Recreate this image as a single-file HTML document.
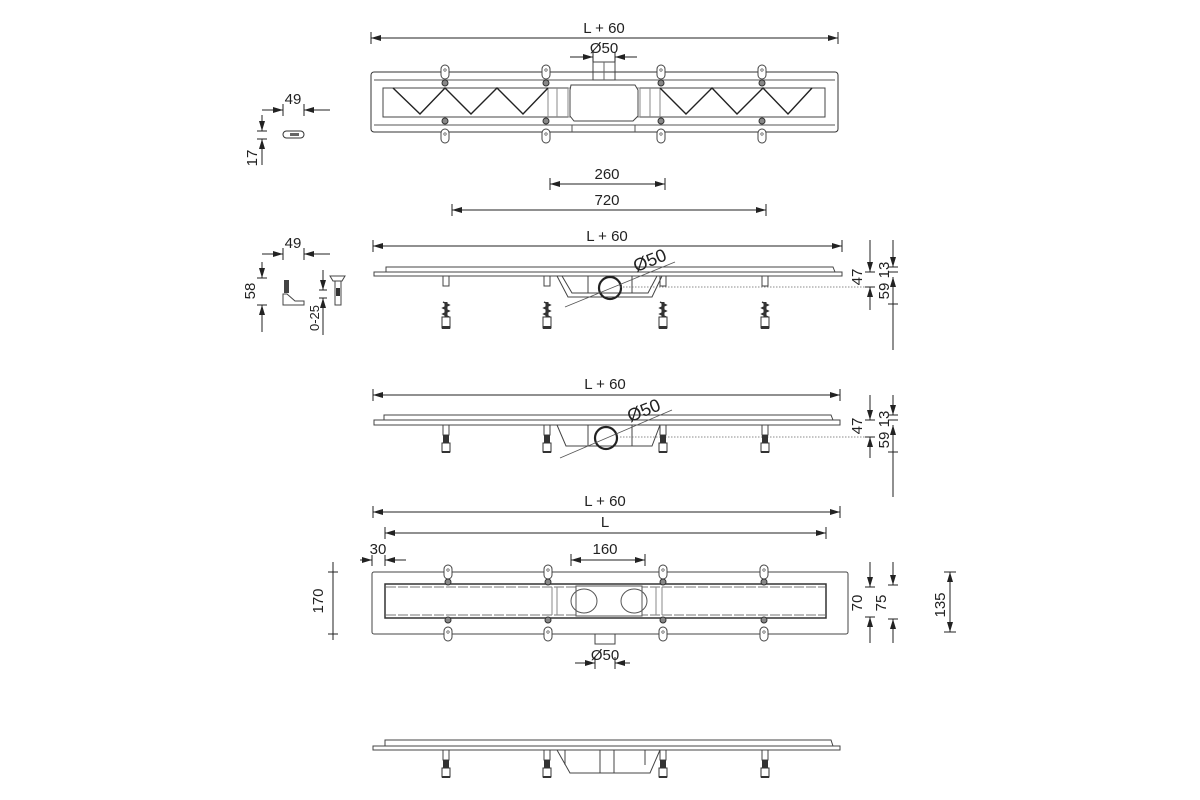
<!DOCTYPE html>
<html><head><meta charset="utf-8"><style>
html,body{margin:0;padding:0;background:#fff;width:1200px;height:800px;overflow:hidden}
text{font-family:"Liberation Sans",sans-serif;font-size:15px;fill:#222}
</style></head><body>
<svg width="1200" height="800" viewBox="0 0 1200 800" xmlns="http://www.w3.org/2000/svg">
<defs>
<marker id="a" markerWidth="10" markerHeight="6" refX="10" refY="3" orient="auto-start-reverse" markerUnits="userSpaceOnUse"><path d="M0,0 L10,3 L0,6z" fill="#222"/></marker>
<g id="tab"><rect x="-4" y="-7" width="8" height="14" rx="4" fill="#fff" stroke="#444" stroke-width="1"/><circle cx="0" cy="-2" r="1.2" fill="none" stroke="#444" stroke-width=".7"/></g>
<g id="bolt"><circle r="3" fill="#888" stroke="#333" stroke-width="1"/></g>
<g id="legS"><path d="M-5,0 h10 M-3,0 v10 h6 v-10" fill="none" stroke="#444" stroke-width="1"/></g>
<g id="screw"><path d="M-3,0 l6,3 l-6,3 l6,3 l-6,3 l6,3" fill="none" stroke="#333" stroke-width="1.5"/><rect x="-1.5" y="0" width="3" height="15" fill="#333"/><rect x="-4" y="15" width="8" height="11" fill="#fff" stroke="#333"/><rect x="-4" y="24" width="8" height="3" fill="#333"/></g>
<g id="legF"><path d="M-5,0 h10 M-3,0 v10 h6 v-10" fill="none" stroke="#444" stroke-width="1"/><rect x="-3" y="10" width="6" height="10" fill="#333"/><rect x="-4" y="18" width="8" height="9" fill="#fff" stroke="#333"/><rect x="-4" y="26" width="8" height="2" fill="#333"/></g>
</defs>
<g stroke="#222" stroke-width="1" fill="none">
<line x1="371" y1="38" x2="838" y2="38" marker-start="url(#a)" marker-end="url(#a)"/>
<line x1="371" y1="32" x2="371" y2="44"/><line x1="838" y1="32" x2="838" y2="44"/>
<line x1="570" y1="57" x2="593" y2="57" marker-end="url(#a)"/><line x1="637" y1="57" x2="615" y2="57" marker-end="url(#a)"/>
<line x1="593" y1="52" x2="593" y2="62"/><line x1="615" y1="52" x2="615" y2="62"/>
<rect x="371" y="72" width="467" height="60" rx="3" stroke="#333"/>
<path d="M374,80 H593 M615,80 H835 M374,125 H835 M572,125 v7 M635,125 v7" stroke="#555"/>
<rect x="593" y="62" width="22" height="18" stroke="#444"/><line x1="604" y1="62" x2="604" y2="80" stroke="#666"/>
<rect x="383" y="88" width="442" height="29" stroke="#444"/>
<path d="M568,88 H640 M568,117 H640 M548,88 v29 M557,88 v29 M568,88 v29 M640,88 v29 M650,88 v29 M660,88 v29" stroke="#888"/>
<path d="M571,85 H635 L638,90 V116 L633,121 H574 L570,116 V90 Z" fill="#fff" stroke="#444"/>
<path d="M393,88 L420,114 L445,88 L471,114 L497,88 L523,114 L548,88 M660,88 L686,114 L712,88 L737,114 L763,88 L788,114 L812,88" stroke="#222" stroke-width="1.4"/>
</g>
<g>
<use href="#tab" x="445" y="72"/><use href="#tab" x="546" y="72"/><use href="#tab" x="661" y="72"/><use href="#tab" x="762" y="72"/>
<use href="#tab" x="445" y="136"/><use href="#tab" x="546" y="136"/><use href="#tab" x="661" y="136"/><use href="#tab" x="762" y="136"/>
<use href="#bolt" x="445" y="83"/><use href="#bolt" x="546" y="83"/><use href="#bolt" x="661" y="83"/><use href="#bolt" x="762" y="83"/>
<use href="#bolt" x="445" y="121"/><use href="#bolt" x="546" y="121"/><use href="#bolt" x="661" y="121"/><use href="#bolt" x="762" y="121"/>
</g>
<text x="604" y="33" text-anchor="middle">L + 60</text>
<text x="604" y="53" text-anchor="middle">Ø50</text>
<g stroke="#222" fill="none">
<line x1="550" y1="184" x2="665" y2="184" marker-start="url(#a)" marker-end="url(#a)"/>
<line x1="550" y1="178" x2="550" y2="190"/><line x1="665" y1="178" x2="665" y2="190"/>
<line x1="452" y1="210" x2="766" y2="210" marker-start="url(#a)" marker-end="url(#a)"/>
<line x1="452" y1="204" x2="452" y2="216"/><line x1="766" y1="204" x2="766" y2="216"/>
</g>
<text x="607" y="179" text-anchor="middle">260</text>
<text x="607" y="205" text-anchor="middle">720</text>

<g stroke="#222" fill="none">
<line x1="262" y1="110" x2="283" y2="110" marker-end="url(#a)"/><line x1="330" y1="110" x2="304" y2="110" marker-end="url(#a)"/>
<line x1="283" y1="104" x2="283" y2="116"/><line x1="304" y1="104" x2="304" y2="116"/>
<line x1="262" y1="115" x2="262" y2="131" marker-end="url(#a)"/><line x1="262" y1="165" x2="262" y2="139" marker-end="url(#a)"/>
<line x1="257" y1="131" x2="267" y2="131"/><line x1="257" y1="139" x2="267" y2="139"/>
<rect x="283" y="131" width="21" height="7" rx="3.5" stroke="#333"/>
<line x1="262" y1="254" x2="283" y2="254" marker-end="url(#a)"/><line x1="330" y1="254" x2="304" y2="254" marker-end="url(#a)"/>
<line x1="283" y1="248" x2="283" y2="260"/><line x1="304" y1="248" x2="304" y2="260"/>
<line x1="262" y1="262" x2="262" y2="278" marker-end="url(#a)"/><line x1="262" y1="332" x2="262" y2="305" marker-end="url(#a)"/>
<line x1="257" y1="278" x2="267" y2="278"/><line x1="257" y1="305" x2="267" y2="305"/>
<line x1="323" y1="270" x2="323" y2="290" marker-end="url(#a)"/><line x1="323" y1="335" x2="323" y2="298" marker-end="url(#a)"/>
<line x1="319" y1="290" x2="327" y2="290"/><line x1="319" y1="298" x2="327" y2="298"/>
<path d="M283,294 h4 l8,7 h9 v4 h-21z" stroke="#444"/>
<path d="M330,276 h15 l-3,5 h-9z M335,281 v24 h6 v-24" stroke="#444"/>
</g>
<rect x="284" y="280" width="5" height="13" fill="#444"/>
<rect x="290" y="133" width="9" height="3" fill="#666"/>
<rect x="336" y="288" width="4" height="8" fill="#333"/>
<text x="293" y="104" text-anchor="middle">49</text>
<text x="293" y="248" text-anchor="middle">49</text>
<text transform="translate(257,158) rotate(-90)" text-anchor="middle">17</text>
<text transform="translate(255,291) rotate(-90)" text-anchor="middle">58</text>
<text transform="translate(319,318) rotate(-90)" text-anchor="middle" style="font-size:13px">0-25</text>

<g stroke="#222" fill="none">
<line x1="373" y1="246" x2="842" y2="246" marker-start="url(#a)" marker-end="url(#a)"/>
<line x1="373" y1="240" x2="373" y2="252"/><line x1="842" y1="240" x2="842" y2="252"/>
<path d="M386,272 V267 H833 L835,272" stroke="#444"/>
<rect x="374" y="272" width="468" height="4" stroke="#444"/>
<path d="M557,276 L568,297 H652 L662,276 M562,276 L572,293 H648 L657,276 M588,276 v17 M632,276 v17" stroke="#444"/>
<circle cx="610" cy="288" r="11" stroke-width="2.2"/>
<line x1="565" y1="307" x2="675" y2="262" stroke="#555" stroke-width=".8"/>
<line x1="620" y1="287" x2="870" y2="287" stroke="#666" stroke-dasharray="1.5 1.5" stroke-width=".8"/>
<line x1="870" y1="240" x2="870" y2="272" marker-end="url(#a)"/><line x1="870" y1="310" x2="870" y2="287" marker-end="url(#a)"/>
<line x1="865" y1="272" x2="875" y2="272"/><line x1="865" y1="287" x2="875" y2="287"/>
<line x1="893" y1="240" x2="893" y2="267" marker-end="url(#a)"/><line x1="893" y1="350" x2="893" y2="277" marker-end="url(#a)"/>
<line x1="888" y1="267" x2="898" y2="267"/><line x1="888" y1="272" x2="898" y2="272"/><line x1="888" y1="304" x2="898" y2="304"/>
</g>
<g><use href="#legS" x="446" y="276"/><use href="#legS" x="547" y="276"/><use href="#legS" x="663" y="276"/><use href="#legS" x="765" y="276"/>
<use href="#screw" x="446" y="302"/><use href="#screw" x="547" y="302"/><use href="#screw" x="663" y="302"/><use href="#screw" x="765" y="302"/></g>
<text x="607" y="241" text-anchor="middle">L + 60</text>
<text transform="translate(652,266) rotate(-22)" text-anchor="middle" style="font-size:18px">Ø50</text>
<text transform="translate(862,277) rotate(-90)" text-anchor="middle">47</text>
<text transform="translate(889,270) rotate(-90)" text-anchor="middle">13</text>
<text transform="translate(889,291) rotate(-90)" text-anchor="middle">59</text>

<g stroke="#222" fill="none">
<line x1="373" y1="395" x2="840" y2="395" marker-start="url(#a)" marker-end="url(#a)"/>
<line x1="373" y1="389" x2="373" y2="401"/><line x1="840" y1="389" x2="840" y2="401"/>
<path d="M384,420 V415 H831 L833,420" stroke="#444"/>
<rect x="374" y="420" width="466" height="5" stroke="#444"/>
<path d="M557,425 L566,446 H652 L660,425 M588,425 v21 M632,425 v21" stroke="#444"/>
<circle cx="606" cy="438" r="11" stroke-width="2.2"/>
<line x1="560" y1="458" x2="672" y2="410" stroke="#555" stroke-width=".8"/>
<line x1="620" y1="437" x2="870" y2="437" stroke="#666" stroke-dasharray="1.5 1.5" stroke-width=".8"/>
<line x1="870" y1="395" x2="870" y2="420" marker-end="url(#a)"/><line x1="870" y1="458" x2="870" y2="437" marker-end="url(#a)"/>
<line x1="865" y1="420" x2="875" y2="420"/><line x1="865" y1="437" x2="875" y2="437"/>
<line x1="893" y1="395" x2="893" y2="415" marker-end="url(#a)"/><line x1="893" y1="497" x2="893" y2="425" marker-end="url(#a)"/>
<line x1="888" y1="415" x2="898" y2="415"/><line x1="888" y1="420" x2="898" y2="420"/><line x1="888" y1="452" x2="898" y2="452"/>
</g>
<g><use href="#legF" x="446" y="425"/><use href="#legF" x="547" y="425"/><use href="#legF" x="663" y="425"/><use href="#legF" x="765" y="425"/></g>
<text x="605" y="389" text-anchor="middle">L + 60</text>
<text transform="translate(646,416) rotate(-22)" text-anchor="middle" style="font-size:18px">Ø50</text>
<text transform="translate(862,426) rotate(-90)" text-anchor="middle">47</text>
<text transform="translate(889,419) rotate(-90)" text-anchor="middle">13</text>
<text transform="translate(889,440) rotate(-90)" text-anchor="middle">59</text>

<g stroke="#222" fill="none">
<line x1="373" y1="512" x2="840" y2="512" marker-start="url(#a)" marker-end="url(#a)"/>
<line x1="373" y1="506" x2="373" y2="518"/><line x1="840" y1="506" x2="840" y2="518"/>
<line x1="385" y1="533" x2="826" y2="533" marker-start="url(#a)" marker-end="url(#a)"/>
<line x1="385" y1="527" x2="385" y2="539"/><line x1="826" y1="527" x2="826" y2="539"/>
<line x1="360" y1="560" x2="372" y2="560" marker-end="url(#a)"/><line x1="406" y1="560" x2="385" y2="560" marker-end="url(#a)"/>
<line x1="372" y1="555" x2="372" y2="566"/><line x1="385" y1="555" x2="385" y2="566"/>
<line x1="571" y1="560" x2="645" y2="560" marker-start="url(#a)" marker-end="url(#a)"/>
<line x1="571" y1="554" x2="571" y2="566"/><line x1="645" y1="554" x2="645" y2="566"/>
<rect x="372" y="572" width="476" height="62" rx="2" stroke="#444"/>
<rect x="385" y="584" width="441" height="34" stroke="#333" stroke-width="1.5"/>
<path d="M386,587 H825 M386,615 H825" stroke="#777" stroke-dasharray="10 2"/>
<path d="M552,587 v28 M557,587 v28 M656,587 v28 M662,587 v28" stroke="#888"/>
<path d="M576,586 H642 V616 H576z" fill="#fff" stroke="#555"/>
<ellipse cx="584" cy="601" rx="13" ry="12" stroke="#555"/><ellipse cx="634" cy="601" rx="13" ry="12" stroke="#555"/>
<rect x="595" y="634" width="20" height="10" stroke="#444"/>
<line x1="575" y1="663" x2="595" y2="663" marker-end="url(#a)"/><line x1="630" y1="663" x2="615" y2="663" marker-end="url(#a)"/>
<line x1="595" y1="657" x2="595" y2="669"/><line x1="615" y1="657" x2="615" y2="669"/>
<line x1="333" y1="562" x2="333" y2="640"/><line x1="328" y1="572" x2="338" y2="572"/><line x1="328" y1="634" x2="338" y2="634"/>
<line x1="870" y1="562" x2="870" y2="587" marker-end="url(#a)"/><line x1="870" y1="643" x2="870" y2="617" marker-end="url(#a)"/>
<line x1="865" y1="587" x2="875" y2="587"/><line x1="865" y1="617" x2="875" y2="617"/>
<line x1="893" y1="562" x2="893" y2="585" marker-end="url(#a)"/><line x1="893" y1="643" x2="893" y2="619" marker-end="url(#a)"/>
<line x1="888" y1="585" x2="898" y2="585"/><line x1="888" y1="619" x2="898" y2="619"/>
<line x1="950" y1="572" x2="950" y2="632" marker-start="url(#a)" marker-end="url(#a)"/>
<line x1="944" y1="572" x2="956" y2="572"/><line x1="944" y1="632" x2="956" y2="632"/>
</g>
<g>
<use href="#tab" x="448" y="572"/><use href="#tab" x="548" y="572"/><use href="#tab" x="663" y="572"/><use href="#tab" x="764" y="572"/>
<use href="#tab" x="448" y="634"/><use href="#tab" x="548" y="634"/><use href="#tab" x="663" y="634"/><use href="#tab" x="764" y="634"/>
<use href="#bolt" x="448" y="582"/><use href="#bolt" x="548" y="582"/><use href="#bolt" x="663" y="582"/><use href="#bolt" x="764" y="582"/>
<use href="#bolt" x="448" y="620"/><use href="#bolt" x="548" y="620"/><use href="#bolt" x="663" y="620"/><use href="#bolt" x="764" y="620"/>
</g>
<text x="605" y="506" text-anchor="middle">L + 60</text>
<text x="605" y="527" text-anchor="middle">L</text>
<text x="378" y="554" text-anchor="middle">30</text>
<text x="605" y="554" text-anchor="middle">160</text>
<text x="605" y="660" text-anchor="middle">Ø50</text>
<text transform="translate(323,601) rotate(-90)" text-anchor="middle">170</text>
<text transform="translate(862,603) rotate(-90)" text-anchor="middle">70</text>
<text transform="translate(886,603) rotate(-90)" text-anchor="middle">75</text>
<text transform="translate(945,605) rotate(-90)" text-anchor="middle">135</text>

<g stroke="#444" fill="none">
<path d="M385,746 V740 H831 L833,746"/>
<rect x="373" y="746" width="467" height="4"/>
<path d="M557,750 L570,773 H650 L660,750 M565,750 v15 M600,750 v23 M614,750 v23 M645,750 v15"/>
</g>
<g><use href="#legF" x="446" y="750"/><use href="#legF" x="547" y="750"/><use href="#legF" x="663" y="750"/><use href="#legF" x="765" y="750"/></g>
</svg>
</body></html>
